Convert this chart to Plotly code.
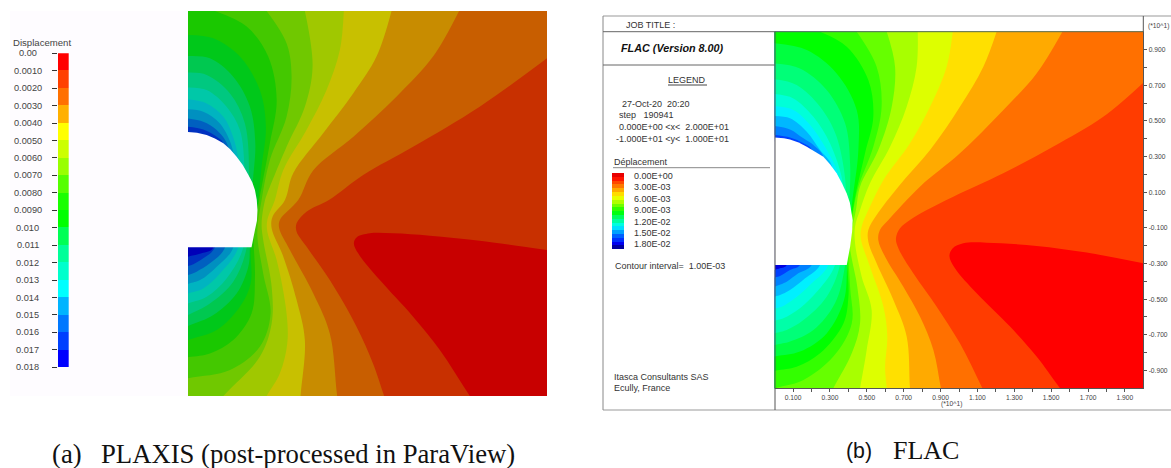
import plotly.graph_objects as go

W, H = 1171, 468

# ---- PLAXIS panel: iso-displacement curves, x and y in metres, level order 0.001 .. 0.017
a01_x = [20, 16.25, 13.47, 11.43, 10.13, 9.39, 9.24, 9.48, 10.69, 12.54, 14.03, 15.7]
a01_y = [-2.42, -1.93, -1.67, -1.55, -1.55, -1.76, -2.07, -2.59, -3.98, -5.88, -7.61, -10]
a02_x = [20, 16.25, 12.54, 9.76, 7.85, 6.6, 6.05, 6.05, 6.6, 7.9, 9.39, 10.3, 10.93]
a02_y = [7.54, 5.03, 2.95, 1.48, 0.18, -0.43, -1.03, -1.47, -2.24, -3.98, -6.4, -8.3, -10]
a03_x = [15.1, 13.65, 11.61, 9.2, 6.98, 6.14, 5.12, 5.08, 5.68, 6.98, 7.9, 8.31]
a03_y = [10, 7.63, 5.55, 3.46, 1.73, 0.18, -0.86, -1.29, -2.42, -4.67, -6.75, -10]
a04_x = [11.34, 10.5, 9.2, 7.53, 5.86, 5.4, 4.71, 4.66, 5.31, 6.05, 6.51, 6.27]
a04_y = [10, 7.63, 5.72, 3.65, 1.57, 0.18, -0.69, -1.29, -2.76, -5.01, -7.09, -10]
a05_x = [8.68, 8.46, 7.72, 6.6, 5.31, 4.84, 4.42, 4.42, 4.94, 5.49, 5.53, 5.12, 4.38]
a05_y = [10, 7.97, 5.9, 3.82, 1.74, 0.18, -0.86, -1.47, -2.94, -5.71, -7.27, -8.82, -10]
a06_x = [6.51, 6.94, 6.51, 5.49, 4.42, 4.29, 4.1, 4.19, 4.66, 4.66, 4.0, 1.97]
a06_y = [10, 7.11, 5.03, 2.95, 0.53, 0.18, -1.03, -1.9, -4.32, -6.23, -7.96, -10]
a07_x = [4.38, 5.49, 5.77, 5.49, 4.56, 4.1, 3.86, 4.19, 4.6, 4.0, 2.34, 0]
a07_y = [10, 8.32, 6.59, 4.51, 2.26, 0.18, -1.55, -3.63, -5.71, -7.44, -8.65, -9.08]
a08_x = [1.5, 3.27, 4.47, 4.94, 4.56, 3.97, 3.67, 3.73, 3.54, 2.52, 1.22, 0]
a08_y = [10, 9.19, 7.63, 5.38, 3.13, 0.18, -1.55, -3.8, -5.71, -7.09, -7.79, -7.99]
a09_x = [0, 1.41, 2.89, 4.0, 4.34, 4.1, 3.91, 3.5, 3.49, 2.89, 1.6, 0]
a09_y = [8.75, 8.58, 7.63, 5.9, 3.99, 1.91, 0.18, -2.24, -4.15, -5.36, -6.57, -7.09]
a10_x = [0, 1.22, 2.52, 3.45, 3.75, 3.6, 3.45, 3.36, 2.71, 1.41, 0]
a10_y = [7.66, 7.54, 6.59, 5.03, 3.13, 0.96, -2.28, -3.28, -4.67, -5.79, -6.37]
a11_x = [0, 1.04, 2.34, 3.17, 3.4, 3.3, 3.27, 2.52, 1.22, 0]
a11_y = [6.8, 6.68, 5.72, 4.16, 1.5, 0, -2.28, -4.06, -5.19, -5.79]
a12_x = [0, 1.04, 2.15, 2.89, 3.15, 3.15, 3.08, 2.15, 1.04, 0]
a12_y = [6.03, 5.9, 5.03, 3.82, 1.8, 0, -2.28, -3.89, -4.84, -5.19]
a13_x = [0, 1.04, 1.97, 2.5, 2.8, 2.8, 2.8, 1.78, 0.85, 0]
a13_y = [5.41, 5.2, 4.51, 3.5, 2.3, 1, -2.28, -3.63, -4.41, -4.67]
a14_x = [0, 0.85, 1.78, 2.52, 2.5, 2.52, 1.6, 0.67, 0]
a14_y = [4.89, 4.77, 4.16, 2.69, 1, -2.28, -3.28, -3.98, -4.18]
a15_x = [0, 0.85, 1.6, 2.24, 2.2, 2.06, 1.22, 0.48, 0]
a15_y = [4.42, 4.25, 3.82, 2.95, 1, -2.28, -3.11, -3.54, -3.72]
a16_x = [0, 0.85, 1.6, 1.97, 1.9, 1.5, 0.85, 0.3, 0]
a16_y = [3.99, 3.85, 3.47, 3.13, 1, -2.28, -2.85, -3.15, -3.25]
a17_x = [0, 1.41, 0.76, 0]
a17_y = [3.6, -2.28, -2.58, -2.76]

a_tunnel_x = [0, 0.5, 1.04, 1.5, 1.97, 2.35, 2.71, 3.05, 3.36, 3.58, 3.73, 3.83, 3.87, 3.84, 3.73, 3.62, 3.54, 0]
a_tunnel_y = [3.71, 3.67, 3.56, 3.38, 3.13, 2.82, 2.43, 2.0, 1.5, 1.1, 0.7, 0.2, -0.34, -0.9, -1.38, -1.85, -2.27, -2.27]

a_base_color = "#0000b8"
a_colors = ["#c80000", "#c83000", "#c85e00", "#c88c00", "#c8c000", "#a0c800", "#70c800", "#44c800",
            "#1ac800", "#00c81a", "#00c850", "#00c880", "#00c8a8", "#00b4c0", "#0090c0", "#0060c0", "#0030c0"]

# ---- FLAC panel: iso-displacement curves, level order 1.0E-03 .. 1.8E-02
b01_x = [20, 16.93, 14.21, 11.5, 10.23, 9.66, 9.48, 9.78, 10.96, 12.77, 14.21, 15.48]
b01_y = [-2.99, -2.39, -2.02, -1.83, -1.87, -2.15, -2.58, -3.27, -4.67, -6.54, -8.22, -10]
b02_x = [20, 17.83, 15.1, 12.4, 9.69, 8.25, 7.34, 6.8, 6.58, 6.71, 7.52, 8.79, 10.05, 11.27]
b02_y = [7.14, 5.23, 3.55, 2.06, 0.75, 0, -0.56, -1.03, -1.59, -2.15, -3.55, -5.42, -7.48, -10]
b03_x = [15.61, 14.21, 12.41, 10.05, 7.88, 6.17, 5.71, 5.62, 5.99, 6.98, 7.88, 8.61, 9.02]
b03_y = [10, 7.66, 5.61, 3.18, 1.31, -0.56, -1.12, -1.68, -2.62, -4.3, -5.98, -7.85, -10]
b04_x = [12.04, 11.32, 10.05, 8.43, 6.71, 5.53, 5.08, 5.08, 5.53, 6.44, 7.16, 7.34]
b04_y = [10, 8.04, 5.79, 3.36, 1.31, -0.28, -1.12, -1.78, -2.99, -5.05, -7.1, -10]
b05_x = [9.66, 9.33, 8.43, 7.34, 5.9, 5.17, 4.72, 4.67, 5.17, 5.9, 6.11, 5.99, 6.08]
b05_y = [10, 8.04, 5.79, 3.74, 1.68, 0.19, -0.93, -1.59, -3.18, -5.42, -7.1, -8.79, -10]
b06_x = [7.76, 7.7, 7.16, 6.26, 5.17, 4.63, 4.36, 4.36, 4.72, 5.26, 4.99, 4.63]
b06_y = [10, 8.04, 5.79, 3.55, 1.5, 0, -0.93, -1.87, -3.74, -5.61, -7.85, -10]
b07_x = [6.08, 6.53, 6.35, 5.62, 4.63, 4.41, 4.18, 4.09, 4.48, 4.63, 4.18, 3.18]
b07_y = [10, 8.04, 5.79, 3.36, 1.31, 0, -1.12, -2.06, -4.3, -6.36, -8.04, -10]
b08_x = [4.45, 5.53, 5.8, 5.35, 4.54, 4.27, 4.0, 4.09, 4.18, 3.18, 1.56, 0]
b08_y = [10, 8.04, 5.79, 3.55, 1.31, 0, -1.87, -4.3, -6.36, -8.22, -9.53, -10]
b09_x = [2.46, 3.91, 5.08, 5.35, 4.9, 4.3, 3.94, 4.0, 3.73, 2.46, 1.19, 0]
b09_y = [10, 9.16, 7.29, 5.23, 3.18, 0.37, -2.43, -4.86, -6.36, -8.04, -8.79, -9.01]
b10_x = [0, 1.74, 3.36, 4.45, 4.54, 4.18, 3.94, 3.76, 2.82, 1.37, 0]
b10_y = [9.35, 8.97, 7.66, 5.61, 3.36, 0.19, -3.08, -5.05, -6.92, -7.94, -8.22]
b11_x = [0, 1.37, 2.82, 3.82, 4.09, 4.05, 3.82, 3.27, 2.1, 0.83, 0]
b11_y = [8.22, 7.94, 6.73, 4.86, 2.62, 0.53, -3.08, -5.23, -6.73, -7.38, -7.57]
b12_x = [0, 1.19, 2.46, 3.36, 3.87, 3.7, 3.54, 2.82, 1.56, 0.65, 0]
b12_y = [7.33, 7.01, 5.79, 4.11, 1.03, 0, -3.08, -4.86, -6.17, -6.73, -6.92]
b13_x = [0, 1.01, 2.1, 3.0, 3.69, 3.6, 3.27, 2.37, 1.37, 0.47, 0]
b13_y = [6.5, 6.26, 5.23, 3.74, 1.5, 0.5, -3.08, -4.49, -5.51, -6.07, -6.21]
b14_x = [0, 1.01, 1.92, 2.73, 3.45, 3.4, 2.91, 2.01, 1.1, 0.38, 0]
b14_y = [5.83, 5.61, 4.77, 3.55, 1.96, 1, -3.08, -4.11, -4.95, -5.42, -5.51]
b15_x = [0, 0.83, 1.74, 2.46, 3.09, 3.0, 2.46, 1.65, 0.83, 0.29, 0]
b15_y = [5.27, 5.14, 4.39, 3.36, 2.5, 1, -3.08, -3.83, -4.49, -4.77, -4.86]
b16_x = [0, 0.83, 1.56, 2.1, 2.64, 2.5, 2.01, 1.28, 0.65, 0]
b16_y = [4.71, 4.52, 4.02, 3.64, 2.99, 1, -3.08, -3.55, -4.02, -4.3]
b17_x = [0, 0.83, 1.56, 2.01, 1.9, 1.37, 0.83, 0.29, 0]
b17_y = [4.21, 4.07, 3.74, 3.38, 1, -3.08, -3.36, -3.7, -3.78]
b18_x = [0, 0.65, 0.29, 0]
b18_y = [3.9, -3.08, -3.27, -3.36]

b_tunnel_x = [0, 0.5, 0.83, 1.3, 1.74, 2.2, 2.64, 3.0, 3.36, 3.65, 3.91, 4.08, 4.21, 4.23, 4.2, 4.09, 3.91, 0]
b_tunnel_y = [4.07, 4.03, 3.96, 3.78, 3.55, 3.28, 2.99, 2.56, 2.06, 1.5, 0.93, 0.4, -0.37, -0.56, -1.2, -2.06, -3.08, -3.08]

b_base_color = "#0000e0"
b_colors = ["#ff0000", "#ff3c00", "#ff7000", "#ffaa00", "#ffe000", "#ddff00", "#a8ff00", "#66ff00", "#33ff00",
            "#00ff00", "#00ff40", "#00ff78", "#00ffa8", "#00ffd8", "#00f0ff", "#00b8ff", "#0080ff", "#0040ff"]

# ---- legends
a_legend_levels = ["0.00", "0.0010", "0.0020", "0.0030", "0.0040", "0.0050", "0.0060", "0.0070", "0.0080", "0.0090",
                   "0.010", "0.011", "0.012", "0.013", "0.014", "0.015", "0.016", "0.017", "0.018"]
a_legend_values = [0.000, 0.001, 0.002, 0.003, 0.004, 0.005, 0.006, 0.007, 0.008, 0.009,
                   0.010, 0.011, 0.012, 0.013, 0.014, 0.015, 0.016, 0.017, 0.018]
a_legend_colors = ["#ff0000", "#ff4000", "#ff7000", "#ffb000", "#ffff00", "#ccff00", "#99ff00", "#55ff00", "#1aff00",
                   "#00ff00", "#00ff55", "#00ff99", "#00ffcc", "#00ffff", "#00b4ff", "#0078ff", "#0040ff", "#0000ff"]
b_legend_labels = ["0.00E+00", "3.00E-03", "6.00E-03", "9.00E-03", "1.20E-02", "1.50E-02", "1.80E-02"]
b_legend_values = [0.000, 0.003, 0.006, 0.009, 0.012, 0.015, 0.018]
b_legend_starts = [-0.0008, 0.0002, 0.0012, 0.0022, 0.0032, 0.0042, 0.0052, 0.0062, 0.0072, 0.0082,
                   0.0092, 0.0102, 0.0112, 0.0122, 0.0132, 0.0142, 0.0152, 0.0162, 0.0172, 0.0182]
b_legend_colors = ["#e80000", "#ff1400", "#ff4800", "#ff7800", "#ffaa00", "#ffdc00", "#e8ff00", "#b0ff00", "#70ff00", "#30ff00",
                   "#00ff10", "#00ff60", "#00ffa0", "#00ffe0", "#00e0ff", "#00a0ff", "#0060ff", "#0030ff", "#0000f0", "#0000a0"]

b_x_ticks = list(range(1, 20))
b_x_text = ["0.100", "", "0.300", "", "0.500", "", "0.700", "", "0.900", "", "1.100", "", "1.300", "", "1.500", "", "1.700", "", "1.900"]
b_y_ticks = list(range(-9, 10))
b_y_text = ["-0.900", "", "-0.700", "", "-0.500", "", "-0.300", "", "-0.100", "", "0.100", "", "0.300", "", "0.500", "", "0.700", "", "0.900"]

A_CURVES = [(a01_x, a01_y), (a02_x, a02_y), (a03_x, a03_y), (a04_x, a04_y), (a05_x, a05_y), (a06_x, a06_y),
            (a07_x, a07_y), (a08_x, a08_y), (a09_x, a09_y), (a10_x, a10_y), (a11_x, a11_y), (a12_x, a12_y),
            (a13_x, a13_y), (a14_x, a14_y), (a15_x, a15_y), (a16_x, a16_y), (a17_x, a17_y)]
B_CURVES = [(b01_x, b01_y), (b02_x, b02_y), (b03_x, b03_y), (b04_x, b04_y), (b05_x, b05_y), (b06_x, b06_y),
            (b07_x, b07_y), (b08_x, b08_y), (b09_x, b09_y), (b10_x, b10_y), (b11_x, b11_y), (b12_x, b12_y),
            (b13_x, b13_y), (b14_x, b14_y), (b15_x, b15_y), (b16_x, b16_y), (b17_x, b17_y), (b18_x, b18_y)]


def extend(p, q):
    """Carry the curve from q past its end p, out of the plot, so the clip gives a clean edge."""
    dx_, dy_ = p[0] - q[0], p[1] - q[1]
    if p[1] in (10, -10):
        t = 3 / abs(dy_)
    else:
        t = 3 / abs(dx_) if dx_ else 1
    return (p[0] + dx_ * t, p[1] + dy_ * t)


def region(xs, ys):
    """Close an iso-line round the outside of the domain: the side of lower displacement."""
    pts = list(zip(xs, ys))
    start, end = pts[0], pts[-1]
    s_ext = extend(start, pts[1])
    e_ext = extend(end, pts[-2])
    path = pts + [e_ext]
    path += [(e_ext[0], -14)] if end[1] == -10 else [(-4, e_ext[1]), (-4, -14)]
    path += [(24, -14)]
    if start[0] == 20:
        path += [(24, s_ext[1])]
    elif start[1] == 10:
        path += [(24, 14), (s_ext[0], 14)]
    else:
        path += [(24, 14), (-4, 14), (-4, s_ext[1])]
    path += [s_ext]
    return [p[0] for p in path], [p[1] for p in path]


fig = go.Figure()


def add_panel(curves, colors, base, tunnel_x, tunnel_y, tunnel_color, xa, ya):
    fig.add_trace(go.Scatter(x=[0, 20, 20, 0], y=[-10, -10, 10, 10], fill="toself", fillcolor=base, mode="none",
                             xaxis=xa, yaxis=ya, hoverinfo="skip"))
    for (xs, ys), col in reversed(list(zip(curves, colors))):
        px_, py_ = region(xs, ys)
        fig.add_trace(go.Scatter(x=px_, y=py_, fill="toself", fillcolor=col, mode="lines",
                                 line=dict(shape="spline", smoothing=1.0, width=0, color=col),
                                 xaxis=xa, yaxis=ya, hoverinfo="skip"))
    fig.add_trace(go.Scatter(x=tunnel_x, y=tunnel_y, fill="toself", fillcolor=tunnel_color, mode="lines",
                             line=dict(width=0, color=tunnel_color), xaxis=xa, yaxis=ya, hoverinfo="skip"))


BG_A = "#fefcff"
add_panel(A_CURVES, a_colors, a_base_color, a_tunnel_x, a_tunnel_y, BG_A, "x", "y")
add_panel(B_CURVES, b_colors, b_base_color, b_tunnel_x, b_tunnel_y, "#ffffff", "x2", "y2")

fig.add_trace(go.Bar(x=[0] * 18, y=[0.001] * 18, base=a_legend_values[:-1], marker=dict(color=a_legend_colors, line_width=0),
                     width=1, xaxis="x3", yaxis="y3", hoverinfo="skip"))
fig.add_trace(go.Bar(x=[0] * 20, y=[0.001] * 20, base=b_legend_starts, marker=dict(color=b_legend_colors, line_width=0),
                     width=1, xaxis="x4", yaxis="y4", hoverinfo="skip"))


def dx(a, b):
    return [a / W, b / W]


def dy(top, bottom):
    return [1 - bottom / H, 1 - top / H]


def px(v):
    return v / W


def py(v):
    return 1 - v / H


AX_FONT = dict(family="Liberation Sans", size=6.7, color="#444444")
hidden = dict(visible=False)

layout = dict(
    width=W, height=H, margin=dict(l=0, r=0, t=0, b=0), showlegend=False,
    paper_bgcolor="#ffffff", plot_bgcolor="rgba(0,0,0,0)", barmode="overlay", bargap=0, hovermode=False,
    xaxis=dict(domain=dx(188, 547), range=[0, 20], **hidden),
    yaxis=dict(domain=dy(11, 396), range=[-10, 10], **hidden),
    xaxis2=dict(domain=dx(774.7, 1143.3), range=[0, 20], anchor="y2", showgrid=False, zeroline=False,
                tickmode="array", tickvals=b_x_ticks, ticktext=b_x_text, ticks="outside", ticklen=3, tickwidth=1,
                tickcolor="#555555", tickfont=AX_FONT, showline=True, linecolor="#555555", linewidth=1),
    yaxis2=dict(domain=dy(31.7, 388.3), range=[-10, 10], anchor="x2", side="right", showgrid=False, zeroline=False,
                tickmode="array", tickvals=b_y_ticks, ticktext=b_y_text, ticks="outside", ticklen=3, tickwidth=1,
                tickcolor="#555555", tickfont=AX_FONT, showline=True, linecolor="#555555", linewidth=1),
    xaxis3=dict(domain=dx(58, 68.7), range=[-0.5, 0.5], anchor="y3", **hidden),
    yaxis3=dict(domain=dy(53.3, 367.3), range=[0.018, 0], anchor="x3", showgrid=False, zeroline=False,
                tickmode="array", tickvals=a_legend_values, ticks="outside", ticklen=5, tickwidth=1, tickcolor="#333333",
                showticklabels=False, showline=False),
    xaxis4=dict(domain=dx(612, 624), range=[-0.5, 0.5], anchor="y4", **hidden),
    yaxis4=dict(domain=dy(172.7, 249), range=[0.0192, -0.0008], anchor="x4", **hidden),
)

shapes = []


def line(x0, y0, x1, y1, color="#777777", width=1):
    shapes.append(dict(type="line", xref="paper", yref="paper", x0=px(x0), y0=py(y0), x1=px(x1), y1=py(y1),
                       line=dict(color=color, width=width)))


shapes.append(dict(type="rect", xref="paper", yref="paper", x0=px(10), x1=px(188), y0=py(396), y1=py(11),
                   fillcolor=BG_A, line_width=0, layer="below"))
line(603, 16, 1171, 16, "#999999")
line(603, 410, 1171, 410, "#999999")
line(603, 16, 603, 410, "#888888")
line(603, 31.7, 1143.3, 31.7, "#666666")
line(603, 65, 775, 65, "#666666")
line(775, 31.7, 775, 410, "#555555")
line(1143.3, 16, 1143.3, 32, "#555555")
line(613, 167.7, 770, 167.7, "#888888")
line(668, 85, 707, 85, "#444444")

annotations = []


def text(x, y, s, size=9, anchor="left", family="Liberation Sans", color="#333333", yanchor="middle"):
    annotations.append(dict(x=px(x), y=py(y), xref="paper", yref="paper", text=s, showarrow=False, xanchor=anchor,
                            yanchor=yanchor, align=anchor, font=dict(family=family, size=size, color=color),
                            borderpad=0))


text(12, 42, "Displacement", 9.6, color="#444444")
for lab, val in zip(a_legend_levels, a_legend_values):
    annotations.append(dict(x=px(28), y=val, xref="paper", yref="y3", text=lab, showarrow=False, xanchor="center",
                            yanchor="middle", font=dict(family="Liberation Sans", size=9.2, color="#444444")))

text(625, 25, "JOB TITLE :", 9)
text(619.7, 47.7, "<b><i>FLAC (Version 8.00)</i></b>", 10.8, color="#111111")
text(667, 79.7, "LEGEND", 9)
for xx, yy, s in [(620.7, 103.7, "27-Oct-20&nbsp;&nbsp;20:20"), (618, 115, "step&nbsp;&nbsp;&nbsp;190941"),
                  (618, 127, "0.000E+00 &lt;x&lt;&nbsp;&nbsp;2.000E+01"), (615, 138.7, "-1.000E+01 &lt;y&lt;&nbsp;&nbsp;1.000E+01"),
                  (613, 161.7, "Déplacement"), (613.7, 266, "Contour interval=&nbsp;&nbsp;1.00E-03"),
                  (613, 377, "Itasca Consultants SAS"), (613, 388, "Ecully, France")]:
    text(xx, yy, s, 9)
for lab, val in zip(b_legend_labels, b_legend_values):
    annotations.append(dict(x=px(632.3), y=val, xref="paper", yref="y4", text=lab, showarrow=False, xanchor="left",
                            yanchor="middle", font=dict(family="Liberation Sans", size=9, color="#333333")))
text(951.7, 404, "(*10^1)", 6.7, "center", color="#444444")
text(1147, 26, "(*10^1)", 6.7, color="#444444")

SERIF = "Liberation Serif"
text(51, 470, "(a)", 26.7, family=SERIF, color="#111111", yanchor="bottom")
text(100, 470, "PLAXIS (post-processed in ParaView)", 26.7, family=SERIF, color="#111111", yanchor="bottom")
text(845, 451, "(b)", 21.3, color="#111111")
text(892, 450, "FLAC", 26, family=SERIF, color="#111111")

layout["shapes"] = shapes
layout["annotations"] = annotations
fig.update_layout(**layout)
fig.write_html("out.html", post_script="document.body.style.margin='0';", config={"displayModeBar": False})
